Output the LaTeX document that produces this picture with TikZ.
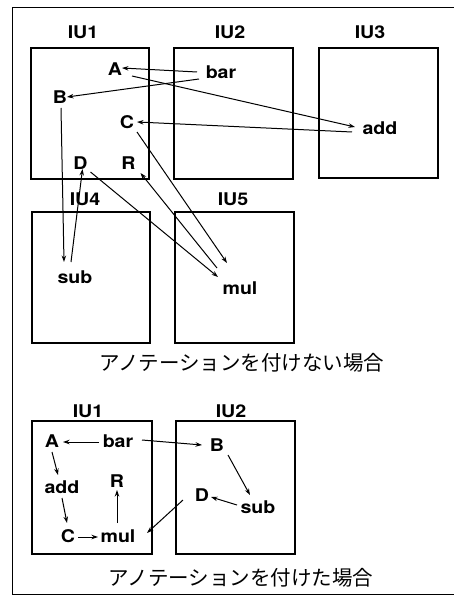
\documentclass[tikz,border=0pt]{standalone}
\usepackage{fontspec}
\setmainfont[FakeStretch=1.12]{TeX Gyre Heros}
\newfontfamily\jpfont{Noto Sans CJK JP}
\usetikzlibrary{arrows.meta,calc}
\begin{document}
\begin{tikzpicture}[x=1pt,y=-1pt,
  lab/.style={font=\bfseries\fontsize{17.5}{19}\selectfont, inner sep=0pt},
  iubox/.style={draw, line width=1.3pt, inner sep=0pt},
  arr/.style={-{Stealth[length=6.5pt,width=4.5pt]}, line width=1pt},
  captxt/.style={font=\jpfont\fontsize{20.5}{22}\selectfont, inner sep=0pt}]
\useasboundingbox (0,0) rectangle (454,596);
% outer frame
\draw[line width=1pt] (454,8) -- (12,8) -- (12,594) -- (454,594);

% ---------- upper diagram ----------
\node[iubox, minimum width=118pt, minimum height=131pt] (t1) at (90,113.5) {};
\node[iubox, minimum width=119pt, minimum height=131pt] (t2) at (233.5,113.5) {};
\node[iubox, minimum width=119pt, minimum height=130pt] (t3) at (378.5,113) {};
\node[iubox, minimum width=118pt, minimum height=131pt] (t4) at (91,277.5) {};
\node[iubox, minimum width=119pt, minimum height=131pt] (t5) at (234.5,277.5) {};
\node[lab] (lt1) at (83,32) {IU1};
\node[lab] (lt2) at (230,32) {IU2};
\node[lab] (lt3) at (370,32) {IU3};
\node[lab] (lt4) at (85,199) {IU4};
\node[lab] (lt5) at (233,199) {IU5};

\node[lab] (tA) at (115,69) {A};
\node[lab] (tbar) at (221,72) {bar};
\node[lab] (tB) at (60,97) {B};
\node[lab] (tC) at (127,122) {C};
\node[lab] (tadd) at (380,128) {add};
\node[lab] (tD) at (80.5,163) {D};
\node[lab] (tR) at (128.5,163) {R};
\node[lab] (tsub) at (75,277) {sub};
\node[lab] (tmul) at (240,288) {mul};

\draw[arr] ($(tbar)+(-24,0)$) -- ($(tA)+(7,-1)$);
\draw[arr] ($(tbar)+(-22,7)$) -- ($(tB)+(7,0)$);
\draw[arr] ($(tA)+(17,7)$) -- ($(tadd)+(-25,-1)$);
\draw[arr] ($(tadd)+(-28,4)$) -- ($(tC)+(10,0)$);
\draw[arr] ($(tB)+(1,11)$) -- ($(tsub)+(-11,-15)$);
\draw[arr] ($(tsub)+(-4,-15)$) -- ($(tD)+(2,6)$);
\draw[arr] ($(tD)+(10,9)$) -- ($(tmul)+(-22,-11)$);
\draw[arr] ($(tmul)+(-23,-20)$) -- ($(tR)+(12,10)$);
\draw[arr] ($(tC)+(10,10)$) -- ($(tmul)+(-13,-25)$);

\node[captxt] (cap1) at (242,363) {アノテーションを付けない場合};

% ---------- lower diagram ----------
\node[iubox, minimum width=120pt, minimum height=133pt] (b1) at (92,487.5) {};
\node[iubox, minimum width=119pt, minimum height=133pt] (b2) at (235.5,487.5) {};
\node[lab] (lb1) at (88,411) {IU1};
\node[lab] (lb2) at (231,411) {IU2};

\node[lab] (bA) at (52,441) {A};
\node[lab] (bbar) at (118,441) {bar};
\node[lab] (bB) at (217,445) {B};
\node[lab] (badd) at (62,487) {add};
\node[lab] (bR) at (117,481) {R};
\node[lab] (bD) at (202,495) {D};
\node[lab] (bsub) at (258,507) {sub};
\node[lab] (bC) at (68,536) {C};
\node[lab] (bmul) at (118,536) {mul};

\draw[arr] ($(bbar)+(-19,1)$) -- ($(bA)+(11,1)$);
\draw[arr] ($(bbar)+(24,-1)$) -- ($(bB)+(-15,0)$);
\draw[arr] ($(bA)+(0,11)$) -- ($(badd)+(-4,-12)$);
\draw[arr] ($(badd)+(0,11)$) -- ($(bC)+(-1,-13)$);
\draw[arr] ($(bC)+(10,1)$) -- ($(bmul)+(-20,1)$);
\draw[arr] ($(bmul)+(-1,-13)$) -- ($(bR)+(0,9)$);
\draw[arr] ($(bD)+(-19,5)$) -- ($(bmul)+(29,-3)$);
\draw[arr] ($(bB)+(11,10)$) -- ($(bsub)+(-8,-12)$);
\draw[arr] ($(bsub)+(-21,-2)$) -- ($(bD)+(9,2)$);

\node[captxt] (cap2) at (241,578) {アノテーションを付けた場合};
\end{tikzpicture}
\end{document}
